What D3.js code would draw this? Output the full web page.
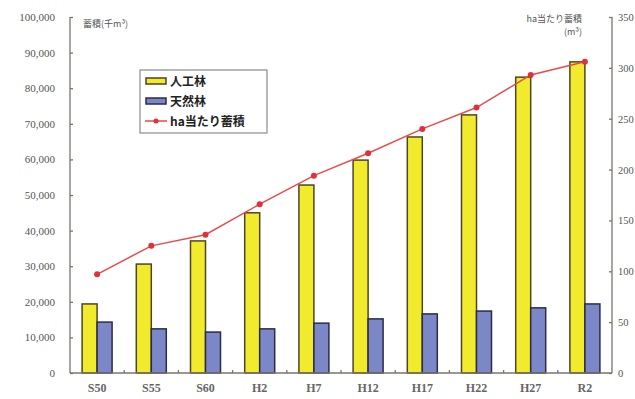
<!DOCTYPE html>
<html><head><meta charset="utf-8">
<script src="https://cdn.jsdelivr.net/npm/d3@7"></script>
<style>body{margin:0;background:#fff}svg{display:block}</style>
</head><body>
<svg id="c" width="635" height="399"></svg>
<script>
const categories = ["S50","S55","S60","H2","H7","H12","H17","H22","H27","R2"];
const plantation = [19400,30600,37100,45000,52800,59800,66300,72500,83100,87400];
const natural = [14300,12400,11500,12400,14000,15200,16600,17400,18300,19400];
const perHa = [97,125,136,166,194,216,240,261,293,306];
const leftTicks = [0,10000,20000,30000,40000,50000,60000,70000,80000,90000,100000];
const rightTicks = [0,50,100,150,200,250,300,350];
const seriesNames = ["人工林","天然林","ha当たり蓄積"];

const svg = d3.select("#c");
const L = 70, R = 612, T = 17, B = 373;
const x = d3.scaleBand().domain(categories).range([L, R]);
const yL = d3.scaleLinear().domain([0,100000]).range([B, T]);
const yR = d3.scaleLinear().domain([0,350]).range([B, T]);
const serif = "'Liberation Serif','DejaVu Serif',serif";
const sans = "'Noto Sans CJK JP','Noto Sans',sans-serif";
const axisCol = "#7a746c";
const bw = 15;

// bars
svg.append("g").selectAll("rect").data(categories).join("rect")
  .attr("x", d => x(d) + x.bandwidth()/2 - bw)
  .attr("y", (d,i) => yL(plantation[i]))
  .attr("width", bw).attr("height", (d,i) => B - yL(plantation[i]))
  .attr("fill", "#f2ea2c").attr("stroke", "#4d4526").attr("stroke-width", 1.5);
svg.append("g").selectAll("rect").data(categories).join("rect")
  .attr("x", d => x(d) + x.bandwidth()/2)
  .attr("y", (d,i) => yL(natural[i]))
  .attr("width", bw).attr("height", (d,i) => B - yL(natural[i]))
  .attr("fill", "#7c87c8").attr("stroke", "#2c2c48").attr("stroke-width", 1.5);

// line
const line = d3.line().x((d,i) => x(categories[i]) + x.bandwidth()/2).y(d => yR(d));
svg.append("path").datum(perHa).attr("d", line)
  .attr("fill","none").attr("stroke","#ec4a4a").attr("stroke-width",1.5);
svg.append("g").selectAll("circle").data(perHa).join("circle")
  .attr("cx",(d,i) => x(categories[i]) + x.bandwidth()/2).attr("cy", d => yR(d))
  .attr("r",3).attr("fill","#e0303a");

// axes
const gl = svg.append("g").attr("transform",`translate(${L},0)`)
  .call(d3.axisRight(yL).tickValues(leftTicks).tickSize(3).tickFormat(""));
gl.select(".domain").attr("d",`M0,${T}V${B}`);
const gr = svg.append("g").attr("transform",`translate(${R},0)`)
  .call(d3.axisLeft(yR).tickValues(rightTicks).tickSize(3).tickFormat(""));
gr.select(".domain").attr("d",`M0,${T}V${B}`);
const gb = svg.append("g").attr("transform",`translate(0,${B})`)
  .call(d3.axisTop(x).tickSize(0).tickFormat(""));
gb.select(".domain").attr("d",`M${L},0H${R}`);
svg.append("g").selectAll("line").data(categories.slice(1)).join("line")
  .attr("x1", d => x(d)).attr("x2", d => x(d)).attr("y1", B).attr("y2", B-3);
svg.selectAll(".domain, .tick line, g > line").attr("stroke", axisCol).attr("stroke-width",1.3);

// tick labels
svg.append("g").selectAll("text").data(leftTicks).join("text")
  .attr("x", 55).attr("y", d => yL(d) + 4).attr("text-anchor","end")
  .attr("font-family", serif).attr("font-size", 11).attr("fill","#555")
  .text(d => d3.format(",")(d));
svg.append("g").selectAll("text").data(rightTicks).join("text")
  .attr("x", 618).attr("y", d => yR(d) + 4).attr("text-anchor","start")
  .attr("font-family", serif).attr("font-size", 10.5).attr("fill","#555")
  .text(d => d);
svg.append("g").selectAll("text").data(categories).join("text")
  .attr("x", d => x(d) + x.bandwidth()/2).attr("y", 392).attr("text-anchor","middle")
  .attr("font-family", serif).attr("font-size", 12).attr("font-weight","bold").attr("fill","#666")
  .text(d => d);

// axis titles
svg.append("text").attr("x",83).attr("y",27).attr("font-family",sans).attr("font-size",9).attr("fill","#555").text("蓄積(千m³)");
svg.append("text").attr("x",582).attr("y",22).attr("text-anchor","end").attr("font-family",sans).attr("font-size",9).attr("fill","#555").text("ha当たり蓄積");
svg.append("text").attr("x",582).attr("y",35).attr("text-anchor","end").attr("font-family",sans).attr("font-size",9).attr("fill","#555").text("(m³)");

// legend
const lg = svg.append("g");
lg.append("rect").attr("x",140).attr("y",70).attr("width",127).attr("height",63)
  .attr("fill","#fff").attr("stroke","#8a8a8a").attr("stroke-width",1.2);
const ly = [81,101,121];
lg.append("rect").attr("x",146).attr("y",ly[0]-3).attr("width",20).attr("height",6).attr("fill","#f2ea2c").attr("stroke","#4d4526").attr("stroke-width",1.5);
lg.append("rect").attr("x",146).attr("y",ly[1]-3).attr("width",20).attr("height",6).attr("fill","#7c87c8").attr("stroke","#2c2c48").attr("stroke-width",1.5);
lg.append("line").attr("x1",145).attr("x2",167).attr("y1",ly[2]).attr("y2",ly[2]).attr("stroke","#ec4a4a").attr("stroke-width",1.5);
lg.append("circle").attr("cx",156).attr("cy",ly[2]).attr("r",2.5).attr("fill","#e0303a");
lg.selectAll("text").data(seriesNames).join("text")
  .attr("x",170).attr("y",(d,i)=>ly[i]+4.5).attr("font-family",sans).attr("font-size",12).attr("font-weight","bold").attr("fill","#222")
  .text(d=>d);
</script>
</body></html>
